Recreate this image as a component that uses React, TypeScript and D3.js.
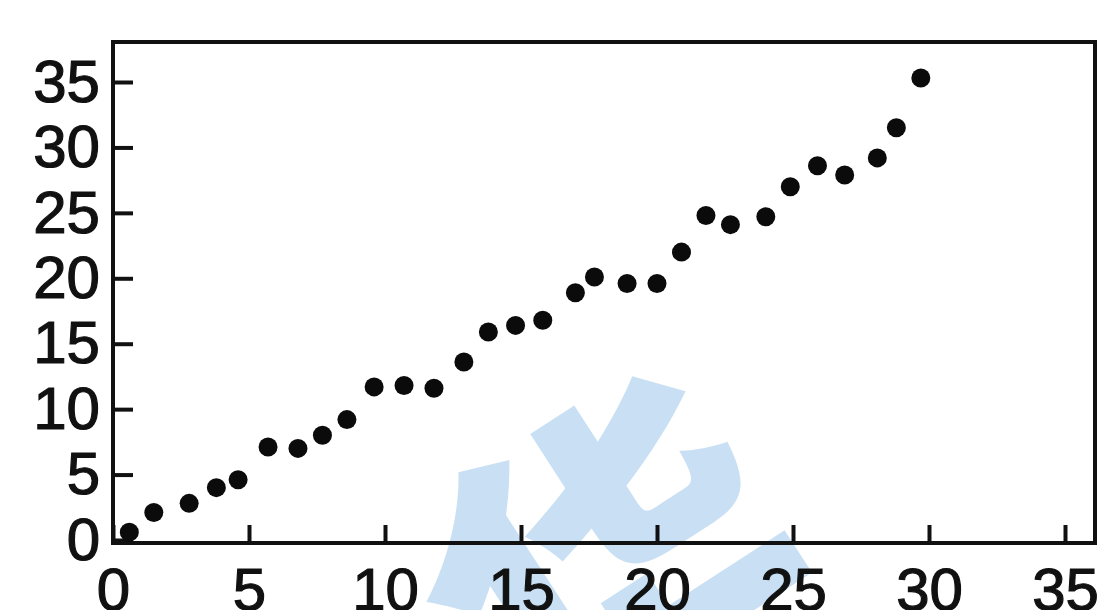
import React, { useEffect, useRef } from "react";
import * as d3 from "d3";

// values
const xValues = [
  0.6, 1.5, 2.8, 3.8, 4.6, 5.7, 6.8, 7.7, 8.6, 9.6, 10.7, 11.8, 12.9, 13.8,
  14.8, 15.8, 17.0, 17.7, 18.9, 20.0, 20.9, 21.8, 22.7, 24.0, 24.9, 25.9, 26.9,
  28.1, 28.8, 29.7,
];
const yValues = [
  0.6, 2.1, 2.8, 4.0, 4.6, 7.1, 7.0, 8.0, 9.2, 11.7, 11.8, 11.6, 13.6, 15.9,
  16.4, 16.8, 18.9, 20.1, 19.6, 19.6, 22.0, 24.8, 24.1, 24.7, 27.0, 28.6, 27.9,
  29.2, 31.5, 35.3,
];
const xTicks = [0, 5, 10, 15, 20, 25, 30, 35];
const yTicks = [0, 5, 10, 15, 20, 25, 30, 35];

const App = () => {
  const ref = useRef<SVGSVGElement>(null);

  useEffect(() => {
    const width = 1098;
    const height = 610;
    const box = { left: 113, right: 1095, top: 42, bottom: 543 };

    const svg = d3.select(ref.current);
    svg.selectAll("*").remove();
    svg.attr("width", width).attr("height", height);

    const x = d3.scaleLinear().domain([0, 35]).range([113, 1065]);
    const y = d3.scaleLinear().domain([0, 35]).range([540, 82]);

    // watermark behind everything
    svg
      .append("text")
      .attr("transform", "translate(690,690) rotate(-33)")
      .attr("text-anchor", "middle")
      .attr("font-family", "Noto Sans CJK SC")
      .attr("font-weight", 900)
      .attr("font-size", 360)
      .attr("fill", "#c9e0f4")
      .text("华");

    // frame
    svg
      .append("rect")
      .attr("x", box.left)
      .attr("y", box.top)
      .attr("width", box.right - box.left)
      .attr("height", box.bottom - box.top)
      .attr("fill", "none")
      .attr("stroke", "#111")
      .attr("stroke-width", 4);

    const font = "'Liberation Sans', sans-serif";

    const yAxis = svg
      .append("g")
      .attr("transform", `translate(${box.left},0)`)
      .call(
        d3
          .axisLeft(y)
          .tickValues(yTicks)
          .tickSizeInner(-20)
          .tickSizeOuter(0)
          .tickPadding(13)
      );

    const xAxis = svg
      .append("g")
      .attr("transform", `translate(0,${box.bottom})`)
      .call(
        d3
          .axisBottom(x)
          .tickValues(xTicks)
          .tickSizeInner(-18)
          .tickSizeOuter(0)
          .tickPadding(24)
      );

    [xAxis, yAxis].forEach((g) => {
      g.select(".domain").remove();
      g.selectAll("line").attr("stroke", "#111").attr("stroke-width", 4);
      g.selectAll("text")
        .attr("fill", "#111")
        .attr("font-family", font)
        .attr("font-size", 60)
        .attr("stroke", "#111")
        .attr("stroke-width", 1.2);
    });

    svg
      .append("g")
      .selectAll("circle")
      .data(xValues.map((v, i) => [v, yValues[i]]))
      .join("circle")
      .attr("cx", (d) => x(d[0]))
      .attr("cy", (d) => y(d[1]))
      .attr("r", 9.5)
      .attr("fill", "#0b0b0b");
  }, []);

  return (
    <svg
      ref={ref}
      style={{ position: "absolute", left: 0, top: 0, background: "#fff" }}
    ></svg>
  );
};

export default App;
